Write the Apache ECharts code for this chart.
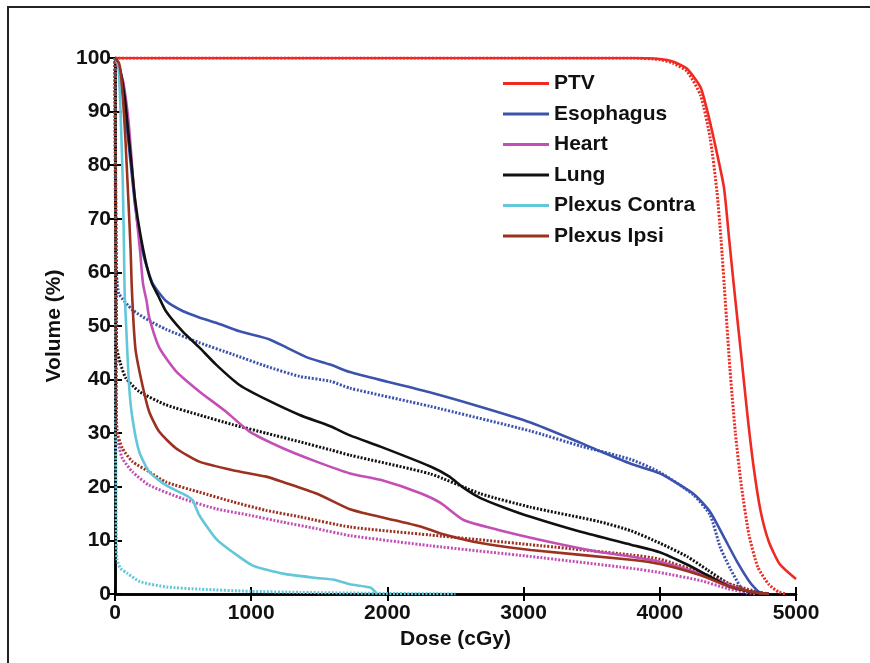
<!DOCTYPE html>
<html>
<head>
<meta charset="utf-8">
<script src="https://cdn.jsdelivr.net/npm/echarts@6/dist/echarts.min.js"></script>
<style>
  html, body { margin: 0; padding: 0; background: #fff; }
  #chart { width: 870px; height: 663px; }
</style>
</head>
<body>
<div id="chart"></div>
<script>
  // dose (cGy), volume (%)
  const organs = ['PTV', 'Esophagus', 'Heart', 'Lung', 'Plexus Contra', 'Plexus Ipsi']
  const colors = ['#ee2a22', '#3b53ad', '#c34fb6', '#111111', '#63c7d9', '#9b3220']
  const xTicks = [0, 1000, 2000, 3000, 4000, 5000]
  const yTicks = [0, 10, 20, 30, 40, 50, 60, 70, 80, 90, 100]

  // solid curves
  const ptvSolid = [[0,100],[3800,100],[4000,99.8],[4100,99.3],[4200,98],[4300,94.5],[4350,90],[4400,84.5],[4470,76],[4510,66],[4550,56],[4600,44],[4645,33],[4690,23.5],[4740,15.5],[4800,9.8],[4880,5.6],[5000,2.8]]
  const esoSolid = [[0,100],[30,98],[60,93],[100,84],[150,72],[201,64],[275,58],[373,54.7],[496,52.8],[619,51.6],[742,50.6],[914,49],[1135,47.5],[1258,46],[1405,44.2],[1581,42.8],[1725,41.4],[2000,39.6],[2316,37.6],[2700,34.8],[3051,32],[3419,28.2],[3556,26.7],[3787,24.3],[4000,22.5],[4247,18.7],[4370,15.3],[4469,10.7],[4568,6],[4667,2],[4741,0]]
  const heartSolid = [[0,100],[30,98],[61,95.5],[100,88],[134,77],[160,70],[184,64],[205,58],[233,54.5],[251,51.6],[324,46],[447,41.6],[619,37.8],[816,34],[988,30.3],[1233,27.2],[1479,24.7],[1725,22.5],[1949,21.3],[2243,18.8],[2390,17],[2560,13.8],[2808,12],[3176,9.8],[3544,7.9],[3787,7],[4000,6],[4300,3.8],[4500,1.8],[4650,0.5],[4800,0]]
  const lungSolid = [[0,100],[37,98],[73,92.3],[98,86],[122,80],[147,73.6],[184,67.4],[233,61.2],[270,58],[318,55.6],[373,52.8],[496,49],[619,46],[742,42.8],[914,39],[1110,36.3],[1356,33.4],[1581,31.3],[1725,29.6],[1949,27.5],[2316,23.8],[2450,22],[2560,19.8],[2684,17.9],[2850,16.2],[3051,14.4],[3419,11.6],[3787,9.2],[4000,7.8],[4200,5.5],[4350,3.5],[4500,1.5],[4650,0.5],[4800,0]]
  const contraSolid = [[0,100],[25,98.5],[42,89],[57,77],[66,64.3],[71,56],[79,51.6],[103,39],[128,32.8],[177,26.6],[251,22.8],[373,20.3],[521,18.4],[570,17.5],[619,14.7],[742,10.3],[865,7.8],[1012,5.3],[1233,3.8],[1479,3],[1600,2.7],[1725,1.8],[1875,1.2],[1924,0]]
  const ipsiSolid = [[0,100],[30,99],[49,95.5],[74,86],[98,73.6],[115,64],[122,58],[135,51],[152,45.3],[201,39],[251,34],[324,30.3],[447,27.2],[619,24.7],[865,23.1],[1110,21.9],[1233,20.9],[1479,18.75],[1725,15.8],[1826,15.1],[2243,12.6],[2390,11.3],[2684,9.5],[3051,8.2],[3787,6.4],[4000,5.6],[4300,3.5],[4500,1.5],[4700,0.3],[4800,0]]

  // dotted curves
  const ptvDot = [[0,100],[3800,100],[4000,99.7],[4100,99],[4200,97.5],[4300,93],[4370,85],[4420,75],[4450,66],[4480,55],[4515,42],[4555,30],[4600,20],[4655,11],[4720,5],[4800,1.8],[4870,0.4],[4930,0]]
  const esoDot = [[0,100],[4,80],[8,62],[14,58.6],[29,56],[128,53],[251,51],[373,49.4],[619,46.9],[865,44.7],[1110,42.5],[1356,40.6],[1581,39.7],[1725,38.4],[2316,35],[3051,30.4],[3419,27.6],[3787,25.1],[4000,22.7],[4247,18.5],[4370,14.7],[4444,8.7],[4518,4.7],[4593,1.3],[4642,0]]
  const heartDot = [[0,100],[4,70],[8,40],[14,29],[30,27.5],[54,25.3],[128,22.8],[251,20.3],[496,17.8],[742,15.9],[988,14.7],[1233,13.4],[1479,12.2],[1725,10.9],[2316,9],[3051,7],[3787,4.8],[4000,4],[4300,2.5],[4500,1],[4700,0]]
  const lungDot = [[0,100],[4,80],[8,60],[12,46],[40,43],[79,40.3],[177,37.8],[373,35.3],[619,33.4],[865,31.6],[1110,30],[1356,28.4],[1581,26.9],[1725,25.9],[2316,22.4],[2684,18.7],[3051,16.2],[3556,13.5],[3787,11.8],[4000,9.5],[4200,7],[4350,4.5],[4500,2],[4650,0.5],[4800,0]]
  const contraDot = [[0,100],[3,60],[6,25],[10,10],[15,6.5],[40,4.8],[88,3.9],[184,2.3],[382,1.3],[625,0.9],[993,0.5],[1360,0.3],[2000,0.1],[2500,0]]
  const ipsiDot = [[0,100],[4,70],[8,45],[14,30.5],[54,27.2],[128,24.7],[251,22.8],[373,20.9],[619,19],[865,17.2],[1110,15.6],[1356,14.4],[1725,12.5],[2316,11],[3051,9.2],[3787,7.3],[4000,6.5],[4300,4],[4500,2],[4700,0.5],[4800,0]]

  const solids = [ptvSolid, esoSolid, heartSolid, lungSolid, contraSolid, ipsiSolid]
  const dots = [ptvDot, esoDot, heartDot, lungDot, contraDot, ipsiDot]

  const font = 'Liberation Sans, Arial, Helvetica, sans-serif'
  const series = []
  // dotted first so the solid ones sit on top
  dots.forEach(function (d, i) {
    series.push({
      type: 'line', name: organs[i] + ' (dotted)', data: d,
      showSymbol: false, smooth: 0.2,
      lineStyle: { color: colors[i], width: 3, type: [2, 1.6] },
      itemStyle: { color: colors[i] }, z: 2
    })
  })
  solids.forEach(function (d, i) {
    series.push({
      type: 'line', name: organs[i], data: d,
      showSymbol: false, smooth: 0.2,
      lineStyle: { color: colors[i], width: 2.6 },
      itemStyle: { color: colors[i] }, z: 3
    })
  })

  const axisCommon = {
    type: 'value',
    axisLine: { show: true, lineStyle: { color: '#000', width: 2.5 } },
    axisTick: { show: true, inside: true, length: 7, lineStyle: { color: '#000', width: 2 } },
    splitLine: { show: false }
  }

  const chart = echarts.init(document.getElementById('chart'))
  chart.setOption({
    animation: false,
    backgroundColor: '#fff',
    textStyle: { fontFamily: font },
    graphic: [{
      type: 'rect', shape: { x: 8, y: 7, width: 900, height: 700 },
      style: { fill: 'none', stroke: '#222', lineWidth: 2 }, z: 10
    }],
    legend: {
      data: organs, orient: 'vertical', left: 498, top: 68,
      icon: 'rect', itemWidth: 46, itemHeight: 3, itemGap: 9.5,
      textStyle: { fontSize: 21, fontWeight: 'bold', color: '#111', fontFamily: font }
    },
    grid: { left: 115, right: 74, top: 58, bottom: 69 },
    xAxis: [
      Object.assign({}, axisCommon, {
        min: 0, max: 5000, interval: 1000, position: 'bottom',
        name: 'Dose (cGy)', nameLocation: 'middle', nameGap: 29,
        nameTextStyle: { fontSize: 21, fontWeight: 'bold', color: '#111', fontFamily: font },
        axisLabel: { margin: 9, fontSize: 21, fontWeight: 'bold', color: '#111', fontFamily: font,
          formatter: function (v) { return xTicks.indexOf(v) >= 0 ? String(v) : '' } }
      }),
      Object.assign({}, axisCommon, {
        min: 0, max: 5000, interval: 1000, position: 'top', axisLabel: { show: false }
      })
    ],
    yAxis: [
      Object.assign({}, axisCommon, {
        min: 0, max: 100, interval: 10, position: 'left',
        name: 'Volume (%)', nameLocation: 'middle', nameGap: 50,
        nameTextStyle: { fontSize: 21, fontWeight: 'bold', color: '#111', fontFamily: font },
        axisLabel: { margin: 4, fontSize: 21, fontWeight: 'bold', color: '#111', fontFamily: font,
          formatter: function (v) { return yTicks.indexOf(v) >= 0 ? String(v) : '' } }
      }),
      Object.assign({}, axisCommon, {
        min: 0, max: 100, interval: 10, position: 'right', axisLabel: { show: false }
      })
    ],
    series: series
  })
</script>
</body>
</html>
